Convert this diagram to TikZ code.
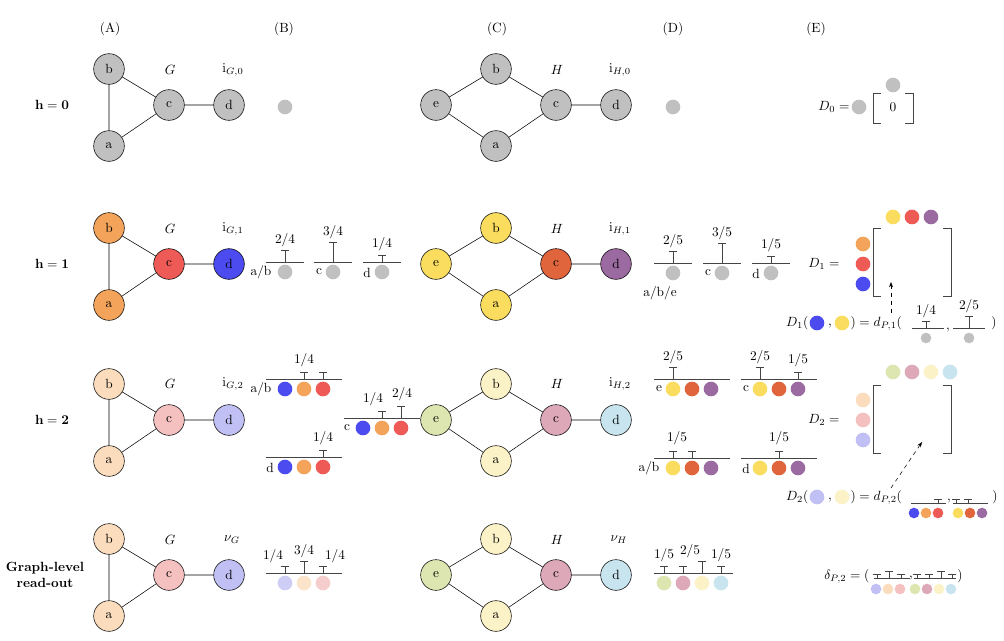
\documentclass[tikz,border=0pt]{standalone}
\usepackage{amsmath}
\usetikzlibrary{arrows.meta}
\definecolor{gr}{HTML}{C0C0C0}
\definecolor{og}{HTML}{F4A45A}
\definecolor{rd}{HTML}{EE5A56}
\definecolor{bl}{HTML}{4B4BF0}
\definecolor{yl}{HTML}{FADD5E}
\definecolor{oc}{HTML}{E0643C}
\definecolor{pu}{HTML}{9A6AA0}
\definecolor{pe}{HTML}{FBDDBE}
\definecolor{pk}{HTML}{F4C0C0}
\definecolor{lv}{HTML}{C0C0F4}
\definecolor{ly}{HTML}{FCF2C8}
\definecolor{lg}{HTML}{DDE5B0}
\definecolor{mv}{HTML}{DDA8B8}
\definecolor{lb}{HTML}{C8E4EE}
\definecolor{ln}{HTML}{444444}
\tikzset{gn/.style={circle,draw,minimum size=23pt,inner sep=0pt,font=\normalsize},
 hl/.style={ln,line width=0.6pt},
 tx/.style={font=\normalsize,inner sep=1pt}}
\newcommand\graphG[6]{%
 \node[gn,fill=#3] (#1a) at (109,{#2+41}) {a};
 \node[gn,fill=#4] (#1b) at (109,{#2-36}) {b};
 \node[gn,fill=#5] (#1c) at (169,#2) {c};
 \node[gn,fill=#6] (#1d) at (229,#2) {d};
 \draw (#1a)--(#1b) (#1a)--(#1c) (#1b)--(#1c) (#1c)--(#1d);}
\newcommand\graphH[6]{%
 \node[gn,fill=#3] (#1a) at (496,{#2+41}) {a};
 \node[gn,fill=#3] (#1b) at (496,{#2-36}) {b};
 \node[gn,fill=#4] (#1e) at (436,#2) {e};
 \node[gn,fill=#5] (#1c) at (556,#2) {c};
 \node[gn,fill=#6] (#1d) at (616,#2) {d};
 \draw (#1a)--(#1e) (#1e)--(#1b) (#1b)--(#1c) (#1a)--(#1c) (#1c)--(#1d);}
\newcommand\tk[3]{\draw[hl] (#1,#2)--(#1,{#2-#3}) ({#1-4},{#2-#3})--({#1+4},{#2-#3});}
\newcommand\bl[3]{\draw[hl] (#1,#3)--(#2,#3);}
\newcommand\dt[4]{\fill[#4] (#1,#2) circle[radius=#3pt];}
\begin{document}
\begin{tikzpicture}[x=0.75pt,y=-0.75pt]
\useasboundingbox (0,0) rectangle (1004,640);
% headers
\node[tx] (hA) at (110,29) {(A)};
\node[tx] (hB) at (284,29) {(B)};
\node[tx] (hC) at (497,29) {(C)};
\node[tx] (hD) at (673,29) {(D)};
\node[tx] (hE) at (816,29) {(E)};
\node[tx] (r0) at (52,105) {$\mathbf{h=0}$};
\node[tx] (r1) at (52,264) {$\mathbf{h=1}$};
\node[tx] (r2) at (52,420) {$\mathbf{h=2}$};
\node[tx,align=center,font=\normalsize\bfseries] (r3) at (45,575) {Graph-level\\read-out};
% graphs
\graphG{g0}{105}{gr}{gr}{gr}{gr}
\graphG{g1}{264}{og}{og}{rd}{bl}
\graphG{g2}{420}{pe}{pe}{pk}{lv}
\graphG{g3}{575}{pe}{pe}{pk}{lv}
\graphH{k0}{105}{gr}{gr}{gr}{gr}
\graphH{k1}{264}{yl}{yl}{oc}{pu}
\graphH{k2}{420}{ly}{lg}{mv}{lb}
\graphH{k3}{575}{ly}{lg}{mv}{lb}
\foreach \y/\s in {70/0,229/1,384/2}{
 \node[tx] at (170,\y) {$G$};
 \node[tx] at (233,\y) {$\mathrm{i}_{G,\s}$};
 \node[tx] at (557,\y) {$H$};
 \node[tx] at (620,\y) {$\mathrm{i}_{H,\s}$};}
\node[tx] at (170,540) {$G$};
\node[tx] at (232,540) {$\nu_G$};
\node[tx] at (557,540) {$H$};
\node[tx] at (619,540) {$\nu_H$};
% h=0
\dt{285}{107}{5.5}{gr}
\dt{673}{107}{5.5}{gr}
% h=1 B
\bl{266}{304}{262}\tk{285}{262}{12}\node[tx] at (285,240) {2/4};\dt{285}{272}{5.5}{gr}\node[tx] at (261,272) {a/b};
\bl{314}{352}{262}\tk{333}{262}{20}\node[tx] at (333,232) {3/4};\dt{333}{272}{5.5}{gr}\node[tx] at (319,272) {c};
\bl{363}{401}{262}\tk{382}{262}{7}\node[tx] at (382,244) {1/4};\dt{382}{272}{5.5}{gr}\node[tx] at (367,273) {d};
% h=1 D
\bl{654}{692}{263}\tk{673}{263}{12}\node[tx] at (673,241) {2/5};\dt{673}{273}{5.5}{gr}\node[tx] at (660,293) {a/b/e};
\bl{703}{741}{263}\tk{722}{263}{20}\node[tx] at (722,233) {3/5};\dt{722}{273}{5.5}{gr}\node[tx] at (708,273) {c};
\bl{752}{790}{263}\tk{771}{263}{7}\node[tx] at (771,245) {1/5};\dt{771}{273}{5.5}{gr}\node[tx] at (756,274) {d};
% h=2 B
\bl{266}{342}{379}\tk{304}{379}{7}\tk{323}{379}{7}\node[tx] at (304,360) {1/4};
\dt{285}{389}{5.5}{bl}\dt{304}{389}{5.5}{og}\dt{323}{389}{5.5}{rd}\node[tx] at (261,389) {a/b};
\bl{344}{420}{418}\tk{382}{418}{7}\tk{401}{418}{12}\node[tx] at (373,399) {1/4};\node[tx] at (402,394) {2/4};
\dt{363}{428}{5.5}{bl}\dt{382}{428}{5.5}{og}\dt{401}{428}{5.5}{rd}\node[tx] at (347,428) {c};
\bl{266}{342}{457}\tk{323}{457}{7}\node[tx] at (323,438) {1/4};
\dt{285}{467}{5.5}{bl}\dt{304}{467}{5.5}{og}\dt{323}{467}{5.5}{rd}\node[tx] at (270,468) {d};
% h=2 D
\bl{654}{730}{379}\tk{673}{379}{12}\node[tx] at (673,357) {2/5};
\dt{673}{389}{5.5}{yl}\dt{692}{389}{5.5}{oc}\dt{711}{389}{5.5}{pu}\node[tx] at (659,389) {e};
\bl{741}{817}{379}\tk{760}{379}{12}\tk{798}{379}{7}\node[tx] at (760,357) {2/5};\node[tx] at (798,360) {1/5};
\dt{760}{389}{5.5}{yl}\dt{779}{389}{5.5}{oc}\dt{798}{389}{5.5}{pu}\node[tx] at (746,389) {c};
\bl{654}{730}{458}\tk{673}{458}{7}\tk{692}{458}{7}\node[tx] at (677,438) {1/5};
\dt{673}{468}{5.5}{yl}\dt{692}{468}{5.5}{oc}\dt{711}{468}{5.5}{pu}\node[tx] at (649,468) {a/b};
\bl{741}{817}{458}\tk{779}{458}{7}\node[tx] at (779,438) {1/5};
\dt{760}{468}{5.5}{yl}\dt{779}{468}{5.5}{oc}\dt{798}{468}{5.5}{pu}\node[tx] at (746,469) {d};
% readout B
\bl{266}{342}{573}\tk{285}{573}{7}\tk{304}{573}{12}\tk{323}{573}{7}
\node[tx] at (273,556) {1/4};\node[tx] at (304,551) {3/4};\node[tx] at (335,556) {1/4};
\dt{285}{583}{5.5}{lv!80}\dt{304}{583}{5.5}{pe!80}\dt{323}{583}{5.5}{pk!80}
% readout D
\bl{654}{733}{573}\tk{664}{573}{7}\tk{683}{573}{7}\tk{702}{573}{12}\tk{721}{573}{7}
\node[tx] at (664,555) {1/5};\node[tx] at (690,551) {2/5};\node[tx] at (721,555) {1/5};
\dt{664}{583}{5.5}{lg}\dt{683}{583}{5.5}{mv}\dt{702}{583}{5.5}{ly}\dt{721}{583}{5.5}{lb}
% E: D0
\node[tx] (D0) at (834,107) {$D_0=$};
\dt{859}{107}{5.5}{gr}\dt{893}{85}{5.5}{gr}
\draw[hl] (881,93)--(873,93)--(873,123)--(881,123) (905,93)--(913,93)--(913,123)--(905,123);
\node[tx] (z0) at (893,107) {0};
% D1
\node[tx] (D1) at (824,264) {$D_1=$};
\dt{863}{244}{5.5}{og}\dt{863}{264}{5.5}{rd}\dt{863}{284}{5.5}{bl}
\dt{893}{217}{5.5}{yl}\dt{912}{217}{5.5}{rd}\dt{931}{217}{5.5}{pu}
\draw[hl] (881,228)--(873,228)--(873,296)--(881,296) (943,228)--(951,228)--(951,296)--(943,296);
\coordinate (a1s) at (891,313); \coordinate (a1e) at (891,282);
\draw[dashed,-{Stealth[length=4pt]}] (a1s)--(a1e);
\node[tx,anchor=east] (e1) at (810,323) {$D_1($};
\dt{817}{323}{5.5}{bl}\node[tx] at (830,326) {,};\dt{842}{323}{5.5}{yl}
\node[tx,anchor=west] at (849,323) {$)=d_{P,1}($};
\bl{912}{944}{328}\tk{926}{328}{7}\node[tx] at (926,311) {1/4};\dt{926}{338}{4}{gr}
\node[tx] at (948,330) {,};
\bl{953}{985}{328}\tk{969}{328}{12}\node[tx] at (969,306) {2/5};\dt{969}{338}{4}{gr}
\node[tx] at (994,323) {$)$};
% D2
\node[tx] (D2) at (824,420) {$D_2=$};
\dt{863}{400}{5.5}{pe}\dt{863}{420}{5.5}{pk}\dt{863}{440}{5.5}{lv}
\dt{893}{372}{5.5}{lg}\dt{912}{372}{5.5}{mv}\dt{931}{372}{5.5}{ly}\dt{950}{372}{5.5}{lb}
\draw[hl] (881,385)--(873,385)--(873,453)--(881,453) (943,385)--(951,385)--(951,453)--(943,453);
\coordinate (a2s) at (891,488); \coordinate (a2e) at (922,442);
\draw[dashed,-{Stealth[length=4pt]}] (a2s)--(a2e);
\node[tx,anchor=east] (e2) at (810,497) {$D_2($};
\dt{817}{497}{5.5}{lv}\node[tx] at (830,500) {,};\dt{842}{497}{5.5}{ly}
\node[tx,anchor=west] at (849,497) {$)=d_{P,2}($};
\bl{911}{946}{503}\tk{938}{503}{4}
\dt{914}{513}{4}{bl}\dt{926}{513}{4}{og}\dt{938}{513}{4}{rd}
\node[tx] at (949,501) {,};
\bl{953}{988}{503}\tk{956}{503}{4}\tk{968}{503}{4}
\dt{958}{513}{4}{yl}\dt{970}{513}{4}{oc}\dt{982}{513}{4}{pu}
\node[tx] at (995,497) {$)$};
% delta
\node[tx,anchor=east] (dl) at (871,576) {$\delta_{P,2}=($};
\bl{874}{910}{578}\tk{877}{578}{4}\tk{889}{578}{7}\tk{901}{578}{4}
\dt{876}{589}{4}{lv}\dt{888}{589}{4}{pe}\dt{900}{589}{4}{pk}
\node[tx] at (911,578) {,};
\bl{914}{956}{578}\tk{917}{578}{4}\tk{929}{578}{4}\tk{941}{578}{7}\tk{952}{578}{4}
\dt{915}{589}{4}{lg}\dt{927}{589}{4}{mv}\dt{939}{589}{4}{ly}\dt{951}{589}{4}{lb}
\node[tx] at (960,576) {$)$};
\end{tikzpicture}
\end{document}
